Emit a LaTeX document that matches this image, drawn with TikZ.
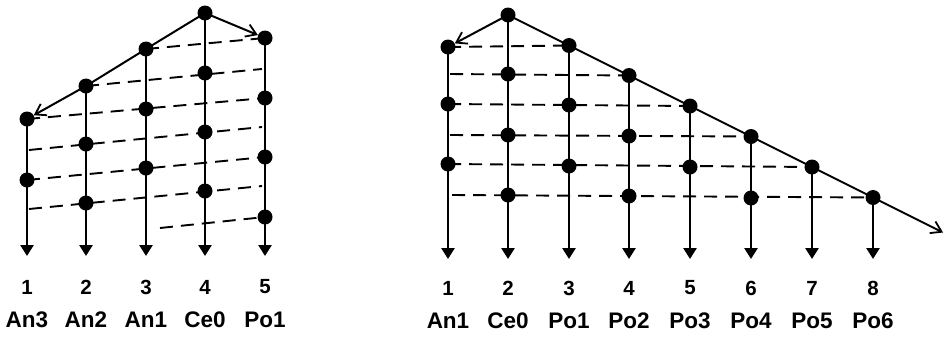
\documentclass[tikz,border=0pt]{standalone}
\usepackage{fontspec}
\setmainfont{Liberation Sans}
\usetikzlibrary{arrows.meta}
\begin{document}
\begin{tikzpicture}[x=1pt,y=-1pt,
 dot/.style={circle,fill=black,inner sep=0pt,minimum size=15pt},
 vline/.style={line width=2.6pt,-{Triangle[width=13pt,length=11pt]}},
 sline/.style={line width=2pt},
 dline/.style={line width=1.9pt,dash pattern=on 13pt off 8pt},
 barb/.style={-{Straight Barb[length=10pt,width=13pt,line width=1.8pt]}},
 num/.style={font=\bfseries\fontsize{20.5}{22}\selectfont},
 lab/.style={font=\bfseries\fontsize{22.5}{24}\selectfont}]
\useasboundingbox (0,0) rectangle (944,338);
% ---------- left diagram ----------
\node[dot] (L1a) at (27,119) {};
\node[dot] (L1b) at (27,180) {};
\node[dot] (L2a) at (86,86) {};
\node[dot] (L2b) at (86,144) {};
\node[dot] (L2c) at (86,203) {};
\node[dot] (L3a) at (146,49) {};
\node[dot] (L3b) at (146,109) {};
\node[dot] (L3c) at (146,168) {};
\node[dot] (L4a) at (205,13) {};
\node[dot] (L4b) at (205,73) {};
\node[dot] (L4c) at (205,132) {};
\node[dot] (L4d) at (205,191) {};
\node[dot] (L5a) at (265,38) {};
\node[dot] (L5b) at (265,98) {};
\node[dot] (L5c) at (265,157) {};
\node[dot] (L5d) at (265,217) {};
\foreach \n/\x in {1/27,2/86,3/146,4/205,5/265}{
  \coordinate (L\n z) at (\x,256);
}
\foreach \n in {1,...,5}{ \draw[vline] (L\n a.center) -- (L\n z); }
\draw[sline,barb] (L4a.center) -- (L3a.center) -- (L2a.center) -- (L1a);
\draw[sline,barb] (L4a.center) -- (L5a);
\coordinate (Ld2e) at (262,69);
\coordinate (Ld4s) at (29,150);
\coordinate (Ld4e) at (262,127);
\coordinate (Ld6s) at (29,209);
\coordinate (Ld6e) at (262,186);
\coordinate (Ld7s) at (160,228);
\draw[dline] (L3a.center) -- (L5a.center);
\draw[dline] (L2a.center) -- (Ld2e);
\draw[dline] (L1a.center) -- (L5b.center);
\draw[dline] (Ld4s) -- (Ld4e);
\draw[dline] (L1b.center) -- (L5c.center);
\draw[dline] (Ld6s) -- (Ld6e);
\draw[dline] (Ld7s) -- (L5d.center);
\foreach \n/\x/\t in {1/27/An3,2/86/An2,3/146/An1,4/205/Ce0,5/265/Po1}{
  \node[num] (Ln\n) at (\x,287) {\n};
  \node[lab] (Lt\n) at (\x,320) {\t};
}
% ---------- right diagram ----------
\node[dot] (R1a) at (448,47) {};
\node[dot] (R1b) at (448,104) {};
\node[dot] (R1c) at (448,164) {};
\node[dot] (R2a) at (508,15) {};
\node[dot] (R2b) at (508,74) {};
\node[dot] (R2c) at (508,135) {};
\node[dot] (R2d) at (508,195) {};
\node[dot] (R3a) at (569,45.5) {};
\node[dot] (R3b) at (569,105) {};
\node[dot] (R3c) at (569,166) {};
\node[dot] (R4a) at (629,75.5) {};
\node[dot] (R4b) at (629,136) {};
\node[dot] (R4c) at (629,196) {};
\node[dot] (R5a) at (690,106) {};
\node[dot] (R5b) at (690,167) {};
\node[dot] (R6a) at (751,136.5) {};
\node[dot] (R6b) at (751,198) {};
\node[dot] (R7a) at (812,167) {};
\node[dot] (R8a) at (873,197.5) {};
\foreach \n/\x in {1/448,2/508,3/569,4/629,5/690,6/751,7/812,8/873}{
  \coordinate (R\n z) at (\x,259);
}
\foreach \n in {1,...,8}{ \draw[vline] (R\n a.center) -- (R\n z); }
\coordinate (Rend) at (943,232.5);
\draw[sline,barb] (R2a.center) -- (R1a);
\draw[sline,barb] (R2a.center) -- (Rend);
\coordinate (Rd2s) at (450,74);
\coordinate (Rd4s) at (450,135);
\coordinate (Rd6s) at (452,195);
\draw[dline] (R1a.center) -- (R3a.center);
\draw[dline] (Rd2s) -- (R4a.center);
\draw[dline] (R1b.center) -- (R5a.center);
\draw[dline] (Rd4s) -- (R6a.center);
\draw[dline] (R1c.center) -- (R7a.center);
\draw[dline] (Rd6s) -- (R8a.center);
\foreach \n/\x/\t in {1/448/An1,2/508/Ce0,3/569/Po1,4/629/Po2,5/690/Po3,6/751/Po4,7/812/Po5,8/873/Po6}{
  \node[num] (Rn\n) at (\x,288) {\n};
  \node[lab] (Rt\n) at (\x,321) {\t};
}
\end{tikzpicture}
\end{document}
